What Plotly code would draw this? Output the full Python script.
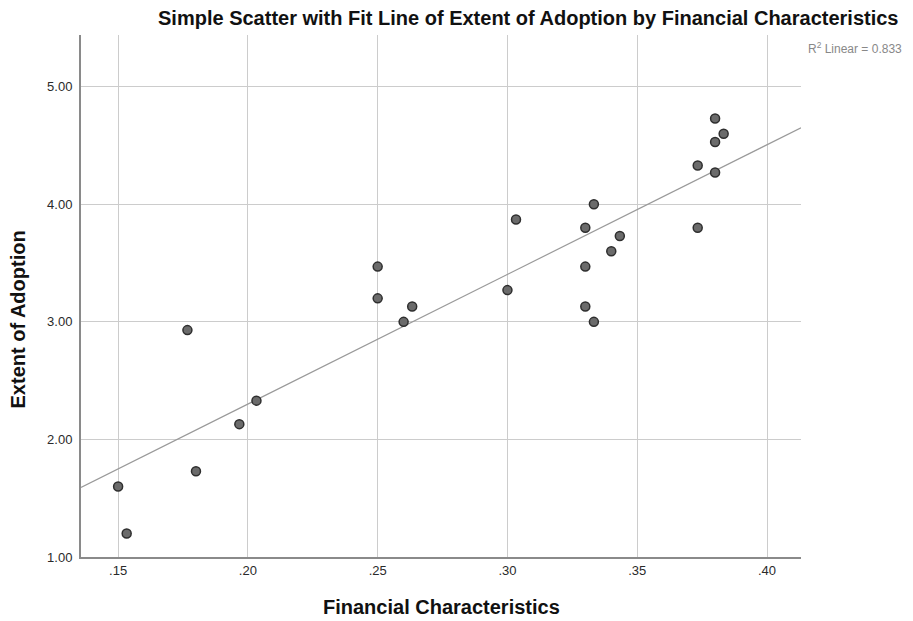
import numpy as np
import plotly.graph_objects as go

# Data
financial = [0.150, 0.1533, 0.1767, 0.180, 0.1967, 0.2033,
             0.250, 0.250, 0.2633, 0.260, 0.300, 0.3033,
             0.3333, 0.330, 0.3433, 0.340, 0.330, 0.330, 0.3333,
             0.380, 0.3833, 0.380, 0.3733, 0.380, 0.3733]
adoption = [1.60, 1.20, 2.93, 1.73, 2.13, 2.33,
            3.47, 3.20, 3.13, 3.00, 3.27, 3.87,
            4.00, 3.80, 3.73, 3.60, 3.47, 3.13, 3.00,
            4.73, 4.60, 4.53, 4.33, 4.27, 3.80]

x_tickvals = [0.15, 0.20, 0.25, 0.30, 0.35, 0.40]
x_ticktext = [".15", ".20", ".25", ".30", ".35", ".40"]
y_tickvals = [1, 2, 3, 4, 5]
y_ticktext = ["1.00", "2.00", "3.00", "4.00", "5.00"]

x_range = [0.1357, 0.4131]
y_range = [1.0, 5.44]

# Linear fit computed from data
slope, intercept = np.polyfit(financial, adoption, 1)
fit_x = np.array(x_range)
fit_y = slope * fit_x + intercept

FONT = "Liberation Sans, Arial, sans-serif"

fig = go.Figure()
fig.add_trace(go.Scatter(x=fit_x, y=fit_y, mode="lines",
                         line=dict(color="#9a9a9a", width=1.2),
                         hoverinfo="skip", showlegend=False))
fig.add_trace(go.Scatter(x=financial, y=adoption, mode="markers",
                         marker=dict(size=9, color="#6b6b6b",
                                     line=dict(color="#2e2e2e", width=1.5)),
                         showlegend=False))

fig.update_layout(
    width=913, height=621,
    margin=dict(l=81, r=112, t=35, b=64),
    paper_bgcolor="white", plot_bgcolor="white",
    font=dict(family=FONT, color="#333333", size=13),
    showlegend=False,
    annotations=[
        dict(text="<b>Simple Scatter with Fit Line of Extent of Adoption by Financial Characteristics</b>",
             xref="paper", yref="paper", x=(900 - 81) / 720, y=1.0, yshift=17,
             xanchor="right", yanchor="middle", showarrow=False,
             font=dict(family=FONT, size=20, color="#111111")),
        dict(text="R<sup>2</sup> Linear = 0.833",
             xref="paper", yref="paper", x=1.0, xshift=5, y=1.0, yshift=-13,
             xanchor="left", yanchor="middle", showarrow=False,
             font=dict(family=FONT, size=12, color="#888888")),
        dict(text="<b>Extent of Adoption</b>",
             xref="paper", yref="paper", x=0, xshift=-63, y=0.455,
             xanchor="center", yanchor="middle", textangle=-90, showarrow=False,
             font=dict(family=FONT, size=20, color="#111111")),
        dict(text="<b>Financial Characteristics</b>",
             xref="paper", yref="paper", x=0.5, y=0, yshift=-50,
             xanchor="center", yanchor="middle", showarrow=False,
             font=dict(family=FONT, size=20, color="#111111")),
    ],
)
fig.update_xaxes(range=x_range, tickvals=x_tickvals, ticktext=x_ticktext,
                 showgrid=True, gridcolor="#cccccc", gridwidth=1,
                 showline=True, linecolor="#8a8a8a", linewidth=2,
                 ticks="", zeroline=False, tickfont=dict(size=13, color="#2a2a2a"))
fig.update_yaxes(range=y_range, tickvals=y_tickvals, ticktext=y_ticktext,
                 showgrid=True, gridcolor="#cccccc", gridwidth=1,
                 showline=True, linecolor="#8a8a8a", linewidth=2,
                 ticks="", zeroline=False, ticklabelstandoff=4,
                 tickfont=dict(size=13, color="#2a2a2a"))

fig.write_html("out.html", config={"displayModeBar": False},
               post_script="document.body.style.margin='0';document.body.style.overflow='hidden';")
